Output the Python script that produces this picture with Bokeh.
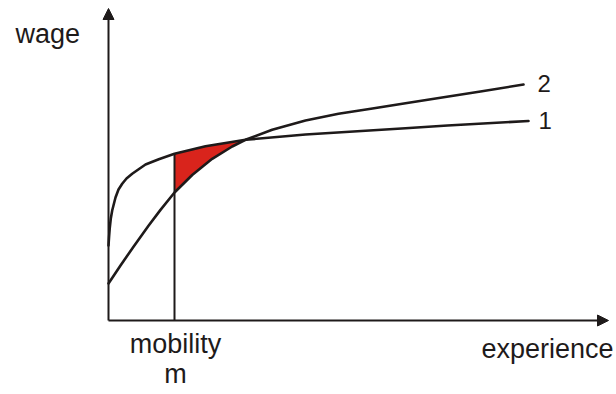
import numpy as np
from bokeh.plotting import figure
from bokeh.models import Range1d, Arrow, NormalHead
from bokeh.core.properties import value
from bokeh.embed import file_html
from bokeh.resources import INLINE

# Curve 1: wage profile of stayers (steep early, flat later)
c1_x = [0, 0.06, 0.13, 0.23, 0.37, 0.7, 1.0, 1.37, 1.8, 2.37, 3.7, 5.03, 6.6, 9.7, 13.7, 19.7, 29.7, 33.9, 42.0]
c1_y = [7.5, 8.4, 9.3, 10.2, 11.0, 12.3, 13.1, 13.67, 14.2, 14.67, 15.6, 16.13, 16.67, 17.43, 18.07, 18.6, 19.23, 19.5, 19.95]
# Curve 2: wage profile after mobility
c2_x = [0, 1.2, 2.5, 4.0, 5.2, 6.6, 8.37, 10.37, 12.37, 13.7, 16.37, 19.7, 23.0, 26.4, 29.7, 33.2, 37.2, 41.5]
c2_y = [3.7, 5.5, 7.38, 9.48, 11.06, 12.8, 14.55, 16.17, 17.4, 18.07, 19.07, 20.0, 20.67, 21.2, 21.73, 22.27, 22.9, 23.6]
mobility_x = 6.6
crossing_x = 13.7
x_axis_end = 50.0
y_axis_end = 31.2
curve_labels = ["1", "2"]

INK = "#1e1a1a"
RED = "#d9241c"
FONT = "Liberation Sans"

p = figure(width=616, height=394, output_backend="svg", toolbar_location=None,
           x_range=Range1d(-10.8, 50.8), y_range=Range1d(-7.4, 32.0),
           min_border=0, min_border_left=0, min_border_right=0,
           min_border_top=0, min_border_bottom=0)
p.xaxis.visible = False
p.yaxis.visible = False
p.grid.visible = False
p.outline_line_color = None
p.background_fill_color = "white"
p.border_fill_color = "white"

c1x = np.array(c1_x); c1y = np.array(c1_y)
c2x = np.array(c2_x); c2y = np.array(c2_y)

# shaded gain region between mobility and crossing
m1 = (c1x >= mobility_x) & (c1x <= crossing_x)
m2 = (c2x >= mobility_x) & (c2x <= crossing_x)
px = list(c1x[m1]) + list(c2x[m2][::-1])
py = list(c1y[m1]) + list(c2y[m2][::-1])
p.patch(px, py, fill_color=RED, line_color=None)

# axes with arrows
p.add_layout(Arrow(end=NormalHead(size=11, fill_color=INK, line_color=INK, line_width=1),
                   x_start=0, y_start=0, x_end=x_axis_end, y_end=0,
                   line_color=INK, line_width=2))
p.add_layout(Arrow(end=NormalHead(size=11, fill_color=INK, line_color=INK, line_width=1),
                   x_start=0, y_start=0, x_end=0, y_end=y_axis_end,
                   line_color=INK, line_width=2))

# mobility vertical
m_top = float(np.interp(mobility_x, c1x, c1y))
p.segment(x0=[mobility_x], y0=[0], x1=[mobility_x], y1=[m_top], line_color=INK, line_width=2)

# curves
p.line(c1_x, c1_y, line_color=INK, line_width=2.6, line_join="round", line_cap="round")
p.line(c2_x, c2_y, line_color=INK, line_width=2.6, line_join="round", line_cap="round")

# labels
p.text(x=[-9.3], y=[28.7], text=["wage"], text_font=value(FONT), text_font_size="27px",
       text_color=INK, text_align="left", text_baseline="alphabetic")
p.text(x=[50.5], y=[-2.8], text=["experience"], text_font=value(FONT), text_font_size="27px",
       text_color=INK, text_align="right", text_baseline="alphabetic")
p.text(x=[mobility_x + 0.1, mobility_x + 0.1], y=[-2.3, -5.3], text=["mobility", "m"],
       text_font=value(FONT), text_font_size="27px",
       text_color=INK, text_align="center", text_baseline="alphabetic")
p.text(x=[c1x[-1], c2x[-1]], y=[c1y[-1], c2y[-1]], text=curve_labels,
       x_offset=[10, 14], y_offset=[-1, -1],
       text_font=value(FONT), text_font_size="24px",
       text_color=INK, text_align="left", text_baseline="alphabetic")

open("out.html", "w").write(file_html(p, INLINE))
